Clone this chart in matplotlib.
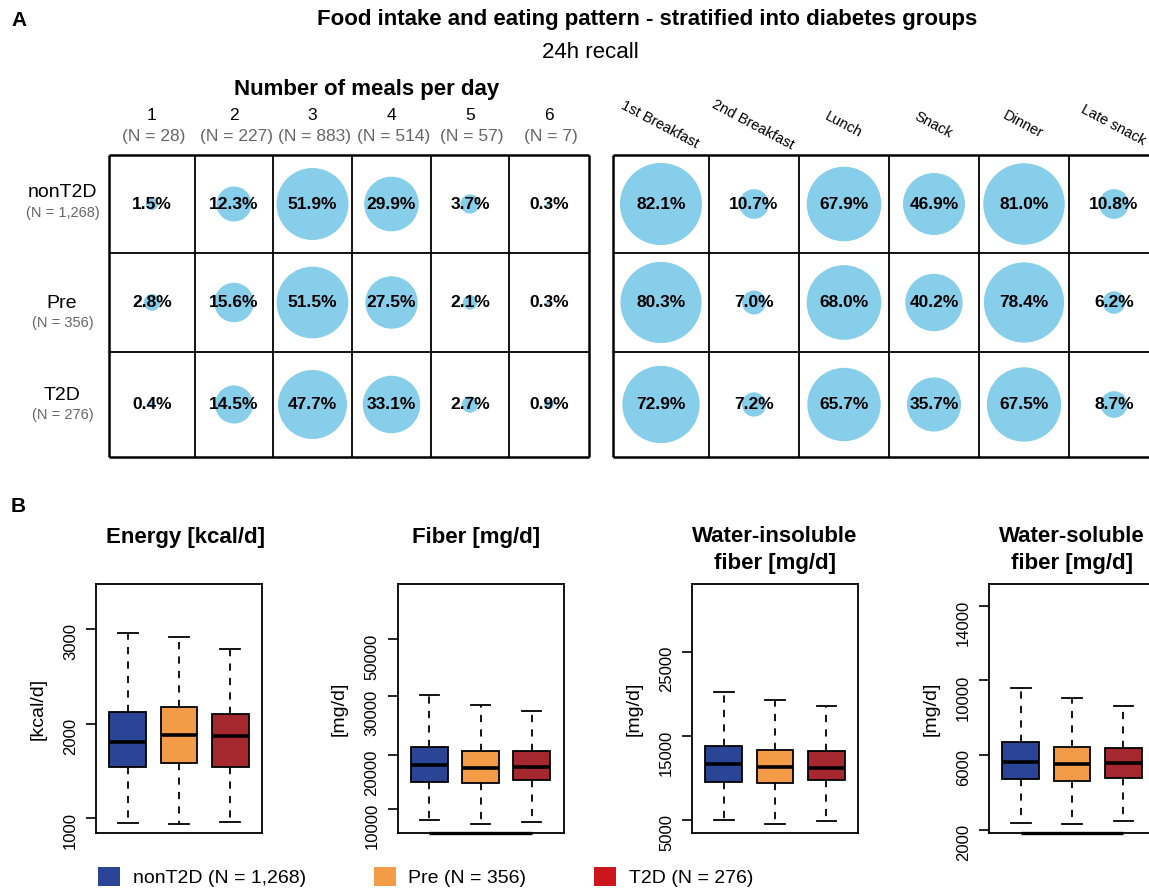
import numpy as np
import matplotlib
matplotlib.use('Agg')
import matplotlib.pyplot as plt
from matplotlib.patches import Patch

plt.rcParams['font.family'] = ['Liberation Sans', 'DejaVu Sans']

# ---- data -------------------------------------------------------------
groups = ['nonT2D', 'Pre', 'T2D']
group_n = ['(N = 1,268)', '(N = 356)', '(N = 276)']

meal_counts = ['1', '2', '3', '4', '5', '6']
meal_count_n = ['(N = 28)', '(N = 227)', '(N = 883)', '(N = 514)', '(N = 57)', '(N = 7)']
meals_pct = [[1.5, 12.3, 51.9, 29.9, 3.7, 0.3],
             [2.8, 15.6, 51.5, 27.5, 2.1, 0.3],
             [0.4, 14.5, 47.7, 33.1, 2.7, 0.9]]

meal_types = ['1st Breakfast', '2nd Breakfast', 'Lunch', 'Snack', 'Dinner', 'Late snack']
type_pct = [[82.1, 10.7, 67.9, 46.9, 81.0, 10.8],
            [80.3, 7.0, 68.0, 40.2, 78.4, 6.2],
            [72.9, 7.2, 65.7, 35.7, 67.5, 8.7]]

# box stats per group: (lower whisker, q1, median, q3, upper whisker)
energy = [[948, 1546, 1810, 2120, 2961],
          [938, 1588, 1881, 2173, 2916],
          [965, 1546, 1873, 2102, 2789]]
fiber = [[7830, 15000, 18240, 21340, 30070],
         [7080, 14870, 17620, 20770, 28440],
         [7560, 15300, 17860, 20700, 27480]]
insoluble = [[5000, 9490, 11600, 13810, 20200],
             [4450, 9330, 11240, 13300, 19210],
             [4880, 9730, 11190, 13210, 18570]]
soluble = [[2400, 4730, 5630, 6710, 9600],
           [2310, 4630, 5550, 6440, 9080],
           [2500, 4770, 5570, 6370, 8620]]

box_titles = ['Energy [kcal/d]', 'Fiber [mg/d]', 'Water-insoluble\nfiber [mg/d]', 'Water-soluble\nfiber [mg/d]']
box_ylabels = ['[kcal/d]', '[mg/d]', '[mg/d]', '[mg/d]']
box_ticks = [[1000, 2000, 3000], [10000, 20000, 30000, 50000], [5000, 15000, 25000], [2000, 6000, 10000, 14000]]
box_ylims = [(845, 3475), (5450, 69600), (3420, 33060), (1845, 15160)]

# fiber axis in the original is not linear: relative spacing of its ticks
fiber_tick_spacing = [0.0, 53.4, 113.0, 169.4]

box_colors = ['#2A4596', '#F49B48', '#A4282D']
legend_colors = ['#2A4596', '#F49B48', '#CC161B']
legend_labels = ['nonT2D (N = 1,268)', 'Pre (N = 356)', 'T2D (N = 276)']

# ---- layout helpers ---------------------------------------------------
W, H = 1149, 889
fig = plt.figure(figsize=(W / 100, H / 100), dpi=100)


def px_axes(left, top, right, bottom):
    return fig.add_axes([left / W, 1 - bottom / H, (right - left) / W, (bottom - top) / H])


def ftext(x, y, s, **kw):
    fig.text(x / W, 1 - y / H, s, **kw)


def bubble_grid(ax, col_w, row_h, pct, s_per_pct):
    xe = np.concatenate([[0], np.cumsum(col_w)])
    ye = np.concatenate([[0], np.cumsum(row_h)])
    ax.set_xlim(0, xe[-1])
    ax.set_ylim(ye[-1], 0)
    ax.axis('off')
    xc = (xe[:-1] + xe[1:]) / 2
    yc = (ye[:-1] + ye[1:]) / 2
    P = np.array(pct)
    X, Y = np.meshgrid(xc, yc)
    ax.scatter(X.ravel(), Y.ravel(), s=P.ravel() * s_per_pct, color='#87CEEB',
               linewidths=0, zorder=1, clip_on=False)
    for i in range(P.shape[0]):
        for j in range(P.shape[1]):
            ax.text(xc[j], yc[i], f'{P[i, j]:.1f}%', ha='center', va='center',
                    fontsize=12.5, fontweight='bold', zorder=3)
    ax.vlines(xe[1:-1], 0, ye[-1], color='black', lw=1.3, clip_on=False)
    ax.hlines(ye[1:-1], 0, xe[-1], color='black', lw=1.3, clip_on=False)
    ax.vlines([xe[0], xe[-1]], 0, ye[-1], color='black', lw=1.8, clip_on=False)
    ax.hlines([ye[0], ye[-1]], 0, xe[-1], color='black', lw=1.8, clip_on=False)
    return xc, yc


# ---- panel A ----------------------------------------------------------
ftext(19, 20, 'A', fontsize=15, fontweight='bold', ha='center', va='center')
ftext(647, 19, 'Food intake and eating pattern - stratified into diabetes groups',
      fontsize=16, fontweight='bold', ha='center', va='center')
ftext(590, 52, '24h recall', fontsize=16, ha='center', va='center')

row_h = [98, 99, 105]
axL = px_axes(109, 155, 589, 457)
xcL, ycL = bubble_grid(axL, [86, 78, 79, 79, 78, 80], row_h, meals_pct, 51.8)
ftext(367, 89, 'Number of meals per day', fontsize=16, fontweight='bold', ha='center', va='center')
for x, lab, n in zip(xcL, meal_counts, meal_count_n):
    ftext(109 + x, 116, lab, fontsize=12.5, ha='center', va='center')
    ftext(111 + x, 137, n, fontsize=12.5, color='#666666', ha='center', va='center')

label_y = [193, 303, 395]
for y, g, n in zip(label_y, groups, group_n):
    ftext(62, y, g, fontsize=14, ha='center', va='center')
    ftext(63, y + 20, n, fontsize=10.5, color='#666666', ha='center', va='center')

axR = px_axes(613, 155, 1159, 457)
xcR, ycR = bubble_grid(axR, [96, 90, 90, 90, 90, 90], row_h, type_pct, 42.5)
for x, lab in zip(xcR, meal_types):
    ftext(612 + x, 125, lab, fontsize=10.5, rotation=-28, rotation_mode='anchor',
          ha='center', va='center')

# ---- panel B ----------------------------------------------------------
ftext(18, 506, 'B', fontsize=15, fontweight='bold', ha='center', va='center')


def pw_linear(x, xp, fp):
    x = np.asarray(x, dtype=float)
    xp = np.asarray(xp, dtype=float)
    fp = np.asarray(fp, dtype=float)
    y = np.interp(x, xp, fp)
    lo = (fp[1] - fp[0]) / (xp[1] - xp[0])
    hi = (fp[-1] - fp[-2]) / (xp[-1] - xp[-2])
    y = np.where(x < xp[0], fp[0] + (x - xp[0]) * lo, y)
    y = np.where(x > xp[-1], fp[-1] + (x - xp[-1]) * hi, y)
    return y


box_data = [energy, fiber, insoluble, soluble]
box_lefts = [96, 397.5, 692, 989]
title_shift = [7, -4, 0, 0]
box_w = 166
for k, (data, left) in enumerate(zip(box_data, box_lefts)):
    ax = px_axes(left, 584, left + box_w, 833)
    if k == 1:
        ax.set_yscale('function', functions=(
            lambda v: pw_linear(v, box_ticks[1], fiber_tick_spacing),
            lambda u: pw_linear(u, fiber_tick_spacing, box_ticks[1])))
    stats = [dict(whislo=d[0], q1=d[1], med=d[2], q3=d[3], whishi=d[4], fliers=[]) for d in data]
    bp = ax.bxp(stats, positions=[1, 2, 3], widths=0.72, patch_artist=True, showfliers=False,
                boxprops=dict(linewidth=1.3, edgecolor='black'),
                medianprops=dict(color='black', linewidth=2.6),
                whiskerprops=dict(color='black', linewidth=1.3, linestyle=(0, (4, 4))),
                capprops=dict(color='black', linewidth=1.3), capwidths=0.38)
    for patch, c in zip(bp['boxes'], box_colors):
        patch.set_facecolor(c)
    ax.set_xlim(0.38, 3.62)
    ax.set_ylim(*box_ylims[k])
    ax.set_yticks(box_ticks[k])
    ax.set_yticklabels([str(t) for t in box_ticks[k]])
    ax.minorticks_off()
    ax.set_xticks([])
    ax.tick_params(axis='y', labelrotation=90, length=7, width=1.2, pad=6, labelsize=12)
    for sp in ax.spines.values():
        sp.set_linewidth(1.3)
    ax.set_ylabel(box_ylabels[k], fontsize=14, va='center')
    ax.yaxis.set_label_coords(-58 / box_w, 0.5)
    if k in (1, 3):
        ax.plot([1, 3], [0, 0], color='black', lw=2.4, clip_on=False,
                transform=ax.get_xaxis_transform(), solid_capstyle='butt')
    for i, line in enumerate(box_titles[k].split('\n')):
        ftext(left + box_w / 2 + title_shift[k], 537 + 26.5 * i, line, fontsize=16,
              fontweight='bold', ha='center', va='center')

handles = [Patch(facecolor=c, edgecolor='none') for c in legend_colors]
fig.legend(handles, legend_labels, loc='center left', bbox_to_anchor=(98 / W, 1 - 877 / H),
           ncol=3, frameon=False, fontsize=14, handlelength=1.13, handleheight=1.13,
           handletextpad=0.65, columnspacing=3.5, borderpad=0, borderaxespad=0)

fig.savefig('out.png', dpi=100)
